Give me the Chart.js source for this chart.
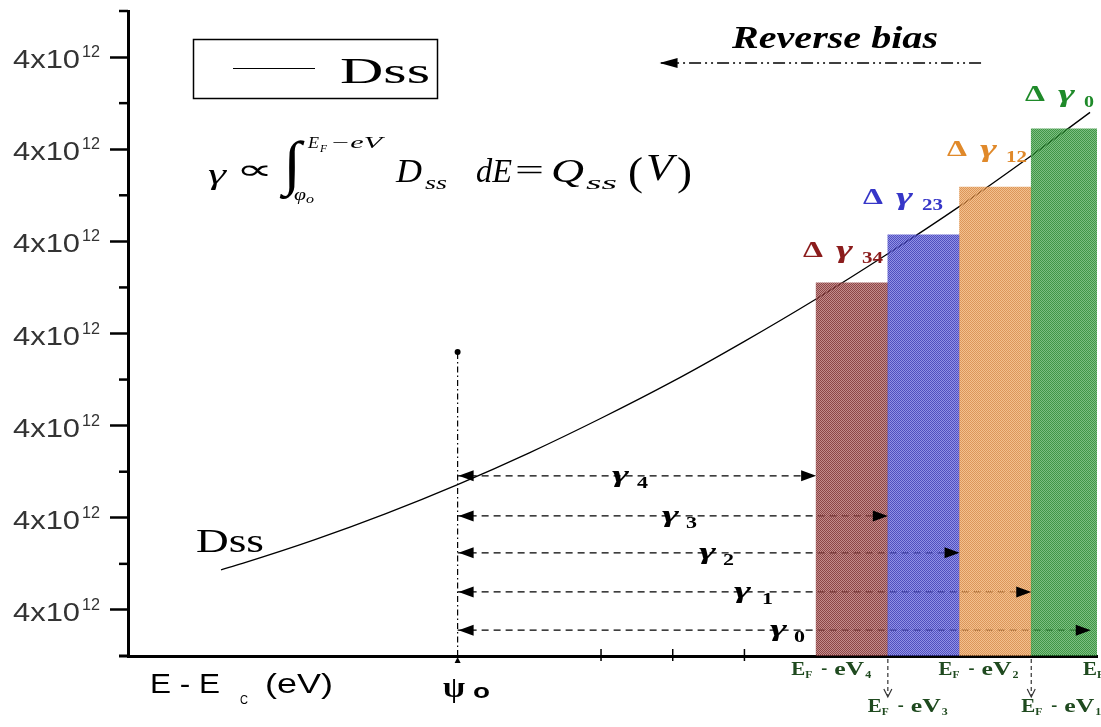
<!DOCTYPE html>
<html><head><meta charset="utf-8">
<script src="https://cdn.jsdelivr.net/npm/chart.js@4.4.1/dist/chart.umd.min.js"></script>
<style>html,body{margin:0;padding:0;background:#fff;overflow:hidden}</style>
</head><body>
<canvas id="c" width="1101" height="727"></canvas>
<script>
// ---------------- data ----------------
const dssX = [1.7, 2, 3, 4, 5, 6, 7, 8, 9, 10, 11, 12, 13, 13.82];
const dssY = [1.87, 2.01, 2.52, 3.09, 3.72, 4.41, 5.16, 5.96, 6.83, 7.75, 8.73, 9.76, 10.86, 11.80];
const barNames = ['34', '23', '12', '0'];
const barStart = [10, 11, 12, 13];
const barEnd = [11, 12, 13, 14];
const barHeight = [8.10, 9.14, 10.18, 11.44];
const arrowNames = ['4', '3', '2', '1', '0'];
const arrowY = [3.91, 3.04, 2.24, 1.39, 0.56];
const arrowEnd = [10, 11, 12, 13, 13.83];
const psi0 = 5;
const psiTop = 6.6;
const revY = 12.87, revFrom = 12.3, revTo = 7.83;
const yTickValues = [1, 3, 5, 7, 9, 11, 13];
const yMinorValues = [2, 4, 6, 8, 10, 12, 14];
const yTickText = '4x10', yTickSup = '12';
const xTickValues = [7, 8, 9];
const bottomLabels = [
  {n: '4', at: 10, row: 0, dx: -25}, {n: '3', at: 11, row: 1, dx: -20}, {n: '2', at: 12, row: 0, dx: -21},
  {n: '1', at: 13, row: 1, dx: -10}, {n: '0', at: 14, row: 0, dx: -20}
];

// ---------------- styles ----------------
const barDark = ['rgb(140,70,70)', 'rgb(80,80,190)', 'rgb(220,150,90)', 'rgb(65,150,70)'];
const barLight = ['rgba(155,63,63,0.6)', 'rgba(72,72,213,0.6)', 'rgba(233,150,67,0.6)', 'rgba(38,147,47,0.6)'];
const labelColor = ['#8b1c1c', '#3636c8', '#e0892a', '#1f8a2a'];

const cv = document.getElementById('c');
const c2d = cv.getContext('2d');
function pattern(dark, light) {
  const t = document.createElement('canvas'); t.width = 2; t.height = 2;
  const g = t.getContext('2d');
  g.fillStyle = dark; g.fillRect(0, 0, 1, 1); g.fillRect(1, 1, 1, 1);
  g.fillStyle = light; g.fillRect(1, 0, 1, 1); g.fillRect(0, 1, 1, 1);
  return c2d.createPattern(t, 'repeat');
}
const barPatterns = barDark.map((d, i) => pattern(d, barLight[i]));

function T(ctx, str, x, y, font, w, color) {
  ctx.save();
  ctx.font = font; ctx.fillStyle = color || '#000';
  ctx.textBaseline = 'alphabetic'; ctx.textAlign = 'left';
  const m = ctx.measureText(str).width;
  const k = w ? w / m : 1;
  ctx.translate(x, y); ctx.scale(k, 1);
  ctx.fillText(str, 0, 0);
  ctx.restore();
}
function head(ctx, tipX, tipY, dir, len, hw) {
  ctx.beginPath();
  ctx.moveTo(tipX, tipY);
  ctx.lineTo(tipX - dir * len, tipY - hw);
  ctx.lineTo(tipX - dir * len, tipY + hw);
  ctx.closePath(); ctx.fill();
}

const SERIF = 'Liberation Serif';
const SANS = 'Liberation Sans';

const decor = {
  id: 'decor',
  afterDraw(chart) {
    const ctx = chart.ctx;
    const xs = chart.scales.x, ys = chart.scales.y;
    const X = v => xs.getPixelForValue(v), Y = v => ys.getPixelForValue(v);
    const axisY = chart.chartArea.bottom, axisX = chart.chartArea.left;
    ctx.save();
    ctx.strokeStyle = '#000'; ctx.fillStyle = '#000';
    // minor y ticks
    ctx.lineWidth = 2.5;
    yMinorValues.forEach(v => { ctx.beginPath(); ctx.moveTo(axisX - 9, Y(v)); ctx.lineTo(axisX, Y(v)); ctx.stroke(); });
    // x axis extension to the left
    ctx.lineWidth = 3;
    ctx.beginPath(); ctx.moveTo(axisX - 9, axisY); ctx.lineTo(axisX, axisY); ctx.stroke();
    // x ticks
    ctx.lineWidth = 1.5;
    xTickValues.forEach(v => { ctx.beginPath(); ctx.moveTo(X(v), axisY - 7); ctx.lineTo(X(v), axisY + 5); ctx.stroke(); });
    // y labels
    yTickValues.forEach(v => {
      const py = Y(v);
      T(ctx, yTickText, 13, py + 11, '25px ' + SANS, 67, '#333');
      T(ctx, yTickSup, 82, py, '16px ' + SANS, 18, '#333');
    });
    // psi marker below axis
    ctx.beginPath(); ctx.moveTo(X(psi0), axisY + 1); ctx.lineTo(X(psi0) - 3, axisY + 7); ctx.lineTo(X(psi0) + 3, axisY + 7); ctx.closePath(); ctx.fill();
    // arrowheads on the gamma arrows
    arrowY.forEach((v, i) => {
      head(ctx, X(psi0) + 1, Y(v), -1, 15, 5.5);
      head(ctx, X(arrowEnd[i]), Y(v), 1, 15, 5.5);
    });
    // reverse bias arrowhead
    head(ctx, X(revTo) - 1, Y(revY), -1, 18, 5);
    // gamma labels on arrows
    const gpos = [[612, 637], [662, 686], [699, 723], [734, 762], [770, 794]];
    arrowY.forEach((v, i) => {
      const py = Y(v);
      T(ctx, 'γ', gpos[i][0], py + 6, 'bold italic 24px ' + SERIF, 17);
      T(ctx, arrowNames[i], gpos[i][1], py + 12, 'bold 17px ' + SERIF, 11);
    });
    // delta-gamma labels above bars
    const dpos = [[803, 257], [863, 204], [947, 156], [1025, 101]];
    barNames.forEach((n, i) => {
      const [x0, b] = dpos[i];
      T(ctx, 'Δ', x0, b, 'bold 24px ' + SERIF, 20, labelColor[i]);
      T(ctx, 'γ', x0 + 33, b + 1, 'bold italic 26px ' + SERIF, 17, labelColor[i]);
      T(ctx, n, x0 + 59, b + 6, 'bold 16px ' + SERIF, n.length > 1 ? 21 : 10, labelColor[i]);
    });
    // bottom E_F - eV_n labels
    const bc = '#1f4a1f';
    bottomLabels.forEach(L => {
      const x0 = X(L.at) + L.dx;
      const b = L.row ? 712 : 675;
      T(ctx, 'E', x0, b, 'bold 18px ' + SERIF, 14, bc);
      T(ctx, 'F', x0 + 14, b + 3, 'bold 11px ' + SERIF, 7, bc);
      T(ctx, '-', x0 + 30, b - 1, 'bold 18px ' + SERIF, 6, bc);
      T(ctx, 'eV', x0 + 43, b, 'bold 18px ' + SERIF, 30, bc);
      T(ctx, L.n, x0 + 74, b + 3, 'bold 11px ' + SERIF, 6, bc);
    });
    // small dashed down arrows below axis
    ctx.lineWidth = 1.2; ctx.strokeStyle = '#333';
    [11, 13].forEach(v => {
      const px = X(v);
      ctx.setLineDash([4, 3]);
      ctx.beginPath(); ctx.moveTo(px, axisY + 3); ctx.lineTo(px, axisY + 40); ctx.stroke();
      ctx.setLineDash([]);
      ctx.beginPath(); ctx.moveTo(px - 4, axisY + 33); ctx.lineTo(px, axisY + 41); ctx.lineTo(px + 4, axisY + 33); ctx.stroke();
    });
    ctx.strokeStyle = '#000';
    // legend
    ctx.lineWidth = 1.5;
    ctx.strokeRect(193.5, 39.5, 244, 59);
    ctx.lineWidth = 1;
    ctx.beginPath(); ctx.moveTo(233, 68.5); ctx.lineTo(315, 68.5); ctx.stroke();
    T(ctx, 'Dss', 340, 83, '35px ' + SERIF, 90);
    // Dss curve label
    T(ctx, 'Dss', 196, 552, '33px ' + SERIF, 68);
    // reverse bias
    T(ctx, 'Reverse bias', 732, 48, 'bold italic 31px ' + SERIF, 206);
    // formula
    T(ctx, 'γ', 208, 184, 'italic 30px ' + SERIF, 18);
    T(ctx, '∝', 236, 179, '28px ' + SERIF, 37);
    T(ctx, '∫', 283, 183, '60px ' + SERIF, 18);
    T(ctx, 'E', 308, 148, 'italic 16px ' + SERIF, 11);
    T(ctx, 'F', 320, 152, 'italic 11px ' + SERIF, 7);
    T(ctx, '−eV', 330, 148, 'italic 16px ' + SERIF, 52);
    T(ctx, 'φ', 294, 200, 'italic 17px ' + SERIF, 12);
    T(ctx, 'o', 306, 203, 'italic 12px ' + SERIF, 8);
    T(ctx, 'D', 396, 182, 'italic 33px ' + SERIF, 26);
    T(ctx, 'ss', 425, 189, 'italic 19px ' + SERIF, 22);
    T(ctx, 'dE', 476, 182, 'italic 33px ' + SERIF, 36);
    T(ctx, '=', 515, 180, '30px ' + SERIF, 29);
    T(ctx, 'Q', 551, 182, 'italic 33px ' + SERIF, 33);
    T(ctx, 'ss', 586, 189, 'italic 19px ' + SERIF, 31);
    T(ctx, '(', 628, 185, '40px ' + SERIF, 15);
    T(ctx, 'V', 646, 180, 'italic 38px ' + SERIF, 27);
    T(ctx, ')', 677, 185, '40px ' + SERIF, 15);
    // x axis title and psi0
    T(ctx, 'E - E', 150, 693, '28px ' + SANS, 70);
    T(ctx, 'C', 240, 704, '12px ' + SANS, 8);
    T(ctx, '(eV)', 265, 693, '28px ' + SANS, 68);
    T(ctx, 'ψ', 443, 697, 'bold 30px ' + SERIF, 22);
    T(ctx, 'o', 473, 698, 'bold 21px ' + SANS, 17);
    ctx.restore();
  }
};

const datasets = [
  {
    type: 'bar', label: 'ΔQss',
    data: barStart.map((s, i) => ({x: (s + barEnd[i]) / 2, y: barHeight[i]})),
    backgroundColor: barPatterns, borderWidth: 0,
    barPercentage: 1, categoryPercentage: 1, order: 0
  },
  {
    type: 'line', label: 'Dss',
    data: dssX.map((x, i) => ({x, y: dssY[i]})),
    borderColor: '#000', borderWidth: 1.3, pointRadius: 0,
    cubicInterpolationMode: 'monotone', fill: false, order: 1
  },
  ...arrowY.map((y, i) => ({
    type: 'line', label: 'γ' + arrowNames[i],
    data: [{x: psi0, y}, {x: arrowEnd[i], y}],
    borderColor: '#000', borderWidth: 1.3, borderDash: [7, 5], pointRadius: 0, fill: false, order: 1
  })),
  {
    type: 'line', label: 'ψo',
    data: [{x: psi0, y: 0}, {x: psi0, y: psiTop}],
    borderColor: '#000', borderWidth: 1.2, borderDash: [6, 3, 1.5, 3],
    pointRadius: c => c.dataIndex === 1 ? 3 : 0, pointBackgroundColor: '#000', pointBorderWidth: 0,
    fill: false, order: 1
  },
  {
    type: 'line', label: 'Reverse bias',
    data: [{x: revFrom, y: revY}, {x: revTo, y: revY}],
    borderColor: '#000', borderWidth: 1.5, borderDash: [12, 4, 2, 4, 2, 4], pointRadius: 0, fill: false, order: 1
  }
];

new Chart(cv, {
  type: 'scatter',
  data: {datasets},
  options: {
    responsive: false, animation: false, events: [],
    layout: {padding: {top: 11, left: 0, right: 0, bottom: 0}},
    plugins: {legend: {display: false}, tooltip: {enabled: false}},
    scales: {
      x: {
        type: 'linear', position: 'bottom', min: 0.403, max: 13.917, offset: false,
        afterBuildTicks: s => { s.ticks = xTickValues.map(v => ({value: v})); },
        afterFit: s => { s.height = 71; },
        ticks: {display: false},
        grid: {display: true, drawOnChartArea: false, drawTicks: false, offset: false},
        border: {display: true, color: '#000', width: 3}
      },
      y: {
        type: 'linear', position: 'left', min: 0, max: 14,
        afterBuildTicks: s => { s.ticks = Array.from({length: 15}, (_, v) => ({value: v})); },
        afterFit: s => { s.width = 128; },
        ticks: {display: false},
        grid: {
          display: true, drawOnChartArea: false, drawTicks: true, tickLength: 18, tickWidth: 2.5,
          tickColor: c => (c.tick && c.tick.value % 2 === 1) ? '#000' : 'rgba(0,0,0,0)'
        },
        border: {display: true, color: '#000', width: 3}
      }
    }
  },
  plugins: [decor]
});
</script>
</body></html>
